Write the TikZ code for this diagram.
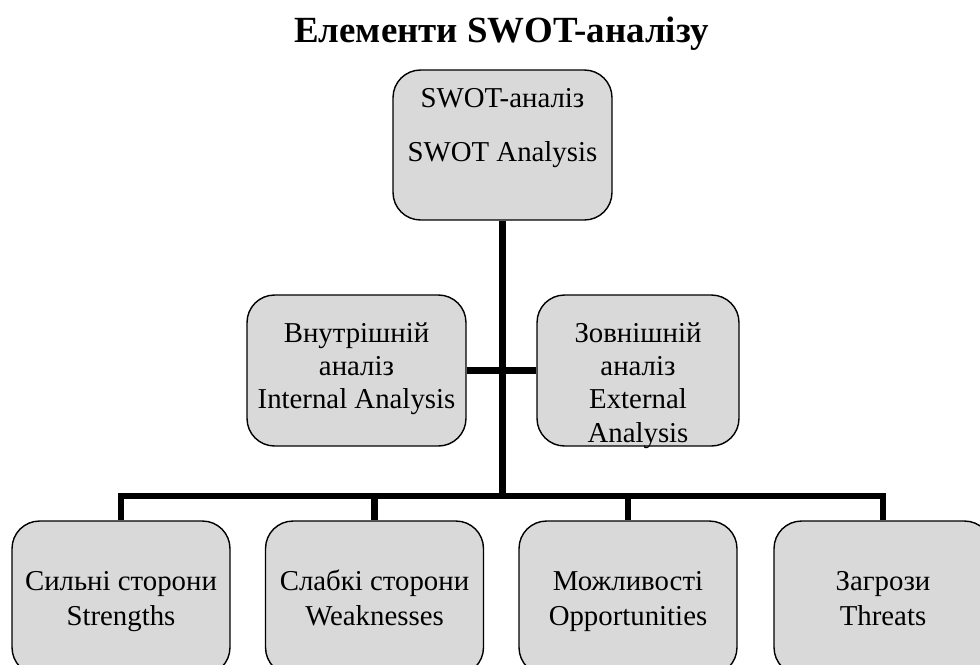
\documentclass[tikz,border=0pt]{standalone}
\usepackage{fontspec}
\setmainfont{Liberation Serif}
\usepackage{xcolor}
\usepackage{tikz}
\usetikzlibrary{calc,positioning}
\definecolor{swotGray}{RGB}{217,217,217}
\definecolor{swotLine}{RGB}{0,0,0}
% width, height, first baseline, lines
\newcommand{\boxtext}[4]{\parbox[c][#2][t]{#1}{\centering\rule{0pt}{#3}#4}}

\begin{document}
\begin{tikzpicture}[x=0.02cm, y=-0.02cm,
  box/.style={draw=swotLine, fill=swotGray, line width=0.8pt, rounded corners=0.55cm,
    inner sep=0pt, align=center, font=\fontsize{16.4}{19}\selectfont},
  link/.style={draw=swotLine, line width=3.8pt}]
\useasboundingbox (0,0) rectangle (980,664);
\clip (0,0) rectangle (980,664);

\node[font=\fontsize{21}{25}\selectfont\bfseries, anchor=base] (title) at (501.5,42) {Елементи SWOT-аналізу};

\node[box] (swot) at (502.5,145) {\boxtext{4.38cm}{3.0cm}{0.74cm}{SWOT-аналіз\\[0.43cm] SWOT Analysis}};
\node[box] (inner) at (356.5,370.5) {\boxtext{4.38cm}{3.02cm}{0.94cm}{Внутрішній\\ аналіз\\ Internal Analysis}};
\node[box] (outer) at (638,370.5) {\boxtext{4.04cm}{3.02cm}{0.94cm}{Зовнішній\\ аналіз\\ External\\ Analysis}};

\node[box] (str) at (121,598) {\boxtext{4.36cm}{3.08cm}{1.38cm}{Сильні сторони\\[0.05cm] Strengths}};
\node[box] (wk) at (374.5,598) {\boxtext{4.36cm}{3.08cm}{1.38cm}{Слабкі сторони\\[0.05cm] Weaknesses}};
\node[box] (opp) at (628,598) {\boxtext{4.36cm}{3.08cm}{1.38cm}{Можливості\\[0.05cm] Opportunities}};
\node[box] (thr) at (883,598) {\boxtext{4.36cm}{3.08cm}{1.38cm}{Загрози\\[0.05cm] Threats}};

% connectors
\coordinate (bus) at (501.5,496);
\draw[link] (swot.south) -- (swot.south |- bus);
\draw[link] (inner.east) -- (outer.west);
\draw[link] (str.north) |- (bus) -| (thr.north);
\draw[link] (wk.north) -- (wk.north |- bus);
\draw[link] (opp.north) -- (opp.north |- bus);
\end{tikzpicture}
\end{document}
